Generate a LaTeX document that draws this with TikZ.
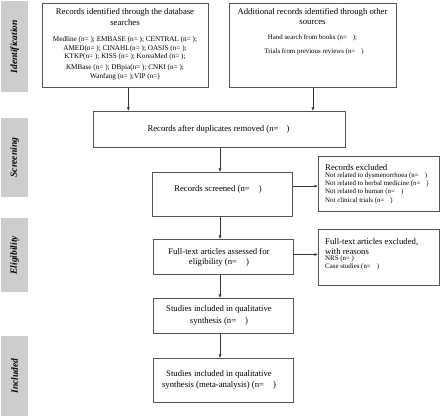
\documentclass[tikz,border=0pt]{standalone}
\usepackage{fontspec}
\setmainfont{Liberation Serif}
\usetikzlibrary{arrows.meta}
\definecolor{boxc}{HTML}{555555}
\definecolor{sidec}{HTML}{CDCDCD}
\definecolor{arrc}{HTML}{333333}
\begin{document}
\begin{tikzpicture}[x=1pt,y=-1pt,
  box/.style={draw=boxc, line width=0.8pt, inner sep=0pt, anchor=north west},
  side/.style={fill=sidec, draw=none, inner sep=0pt, anchor=north west, minimum width=27pt},
  sidetext/.style={rotate=90, inner sep=0pt, font=\fontsize{9.5}{10}\selectfont\bfseries\itshape},
  big/.style={inner sep=0pt, font=\fontsize{8.7}{9}\selectfont},
  small/.style={inner sep=0pt, font=\fontsize{7.2}{8}\selectfont},
  tiny/.style={inner sep=0pt, font=\fontsize{6.9}{7}\selectfont},
  arr/.style={-{Latex[length=3.5pt,width=3pt]}, line width=0.6pt, draw=arrc}]
\path[use as bounding box] (0,0) rectangle (440,419);
% side labels
\node[side, minimum height=91pt] (sid) at (1,1) {};
\node[sidetext] (sidt) at (sid.center) {Identification};
\node[side, minimum height=79pt] (sscr) at (1,118) {};
\node[sidetext] (sscrt) at (sscr.center) {Screening};
\node[side, minimum height=74pt] (sel) at (1,218) {};
\node[sidetext] (selt) at (sel.center) {Eligibility};
\node[side, minimum height=80pt] (sinc) at (1,336) {};
\node[sidetext] (sinct) at (sinc.center) {Included};
% boxes
\node[box, minimum width=166pt, minimum height=84pt] (db) at (42,3) {};
\node[box, minimum width=167pt, minimum height=84pt] (add) at (229,3) {};
\node[box, minimum width=252pt, minimum height=36pt] (dup) at (93,111) {};
\node[box, minimum width=140pt, minimum height=44pt] (scr) at (152,172) {};
\node[box, minimum width=121pt, minimum height=55pt] (exc) at (318,156) {};
\node[box, minimum width=140pt, minimum height=35pt] (ft) at (153,239) {};
\node[box, minimum width=121pt, minimum height=56pt] (fte) at (318,229) {};
\node[box, minimum width=140pt, minimum height=35pt] (stu) at (153,298) {};
\node[box, minimum width=140pt, minimum height=44pt] (fin) at (153,358) {};
% db text
\node[big] (db1) at (125,12) {Records identified through the database};
\node[big] (db2) at (125,23) {searches};
\node[small] (db3) at (125,40) {Medline (n= ); EMBASE (n= ); CENTRAL (n= );};
\node[small] (db4) at (125,48.3) {AMED(n= ); CINAHL(n= ); OASIS (n= );};
\node[small] (db5) at (125,56.7) {KTKP(n= ); KISS (n= ); KoreaMed (n= );};
\node[small] (db6) at (125,67.7) {KMBase (n= ); DBpia(n= ); CNKI (n= );};
\node[small] (db7) at (125,76.7) {Wanfang (n= );VIP (n=)};
% add text
\node[big] (ad1) at (312.5,12) {Additional records identified through other};
\node[big] (ad2) at (312.5,22) {sources};
\node[tiny] (ad3) at (312.5,38.3) {Hand search from books (n=\hspace{6pt});};
\node[tiny] (ad4) at (314,52.3) {Trials from previous reviews (n=\hspace{6pt})};
% dup
\node[big] (dupt) at (218.5,129) {Records after duplicates removed (n=\hspace{8pt})};
% screened
\node[big] (scrt) at (218,189) {Records screened (n=\hspace{9pt})};
% excluded
\node[big, anchor=west] (ex1) at (325,167.5) {Records excluded};
\node[tiny, anchor=west] (ex2) at (325,176.3) {Not related to dysmenorrhoea (n=\hspace{6pt})};
\node[tiny, anchor=west] (ex3) at (325,184.3) {Not related to herbal medicine (n=\hspace{6pt})};
\node[tiny, anchor=west] (ex4) at (325,192.3) {Not related to human (n=\hspace{6pt})};
\node[tiny, anchor=west] (ex5) at (325,200.5) {Not clinical trials (n=\hspace{6pt})};
% full text
\node[big] (ft1) at (219,251) {Full-text articles assessed for};
\node[big] (ft2) at (219,262) {eligibility (n=\hspace{9pt})};
% full text excluded
\node[big, anchor=west] (fe1) at (325,242.3) {Full-text articles excluded,};
\node[big, anchor=west] (fe2) at (325,251.5) {with reasons};
\node[tiny, anchor=west] (fe3) at (325,259.3) {NRS (n= )};
\node[tiny, anchor=west] (fe4) at (325,267.3) {Case studies (n=\hspace{6pt})};
% studies
\node[big] (st1) at (219,309) {Studies included in qualitative};
\node[big] (st2) at (219,321) {synthesis (n=\hspace{9pt})};
% final
\node[big] (fi1) at (219,374) {Studies included in qualitative};
\node[big] (fi2) at (219,385) {synthesis (meta-analysis) (n=\hspace{9pt})};
% arrows
\coordinate (ax) at (220,0);
\coordinate (ra) at (0,186);
\coordinate (rb) at (0,254.5);
\draw[arr] ([xshift=3pt]db.south) -- ([xshift=3pt]db.south |- dup.north);
\draw[arr] (add.south) -- (add.south |- dup.north);
\draw[arr] (dup.south -| ax) -- (scr.north -| ax);
\draw[arr] (scr.east |- ra) -- (exc.west |- ra);
\draw[arr] (scr.south -| ax) -- (ft.north -| ax);
\draw[arr] (ft.east |- rb) -- (fte.west |- rb);
\draw[arr] (ft.south -| ax) -- (stu.north -| ax);
\draw[arr] (stu.south -| ax) -- (fin.north -| ax);
\end{tikzpicture}
\end{document}
